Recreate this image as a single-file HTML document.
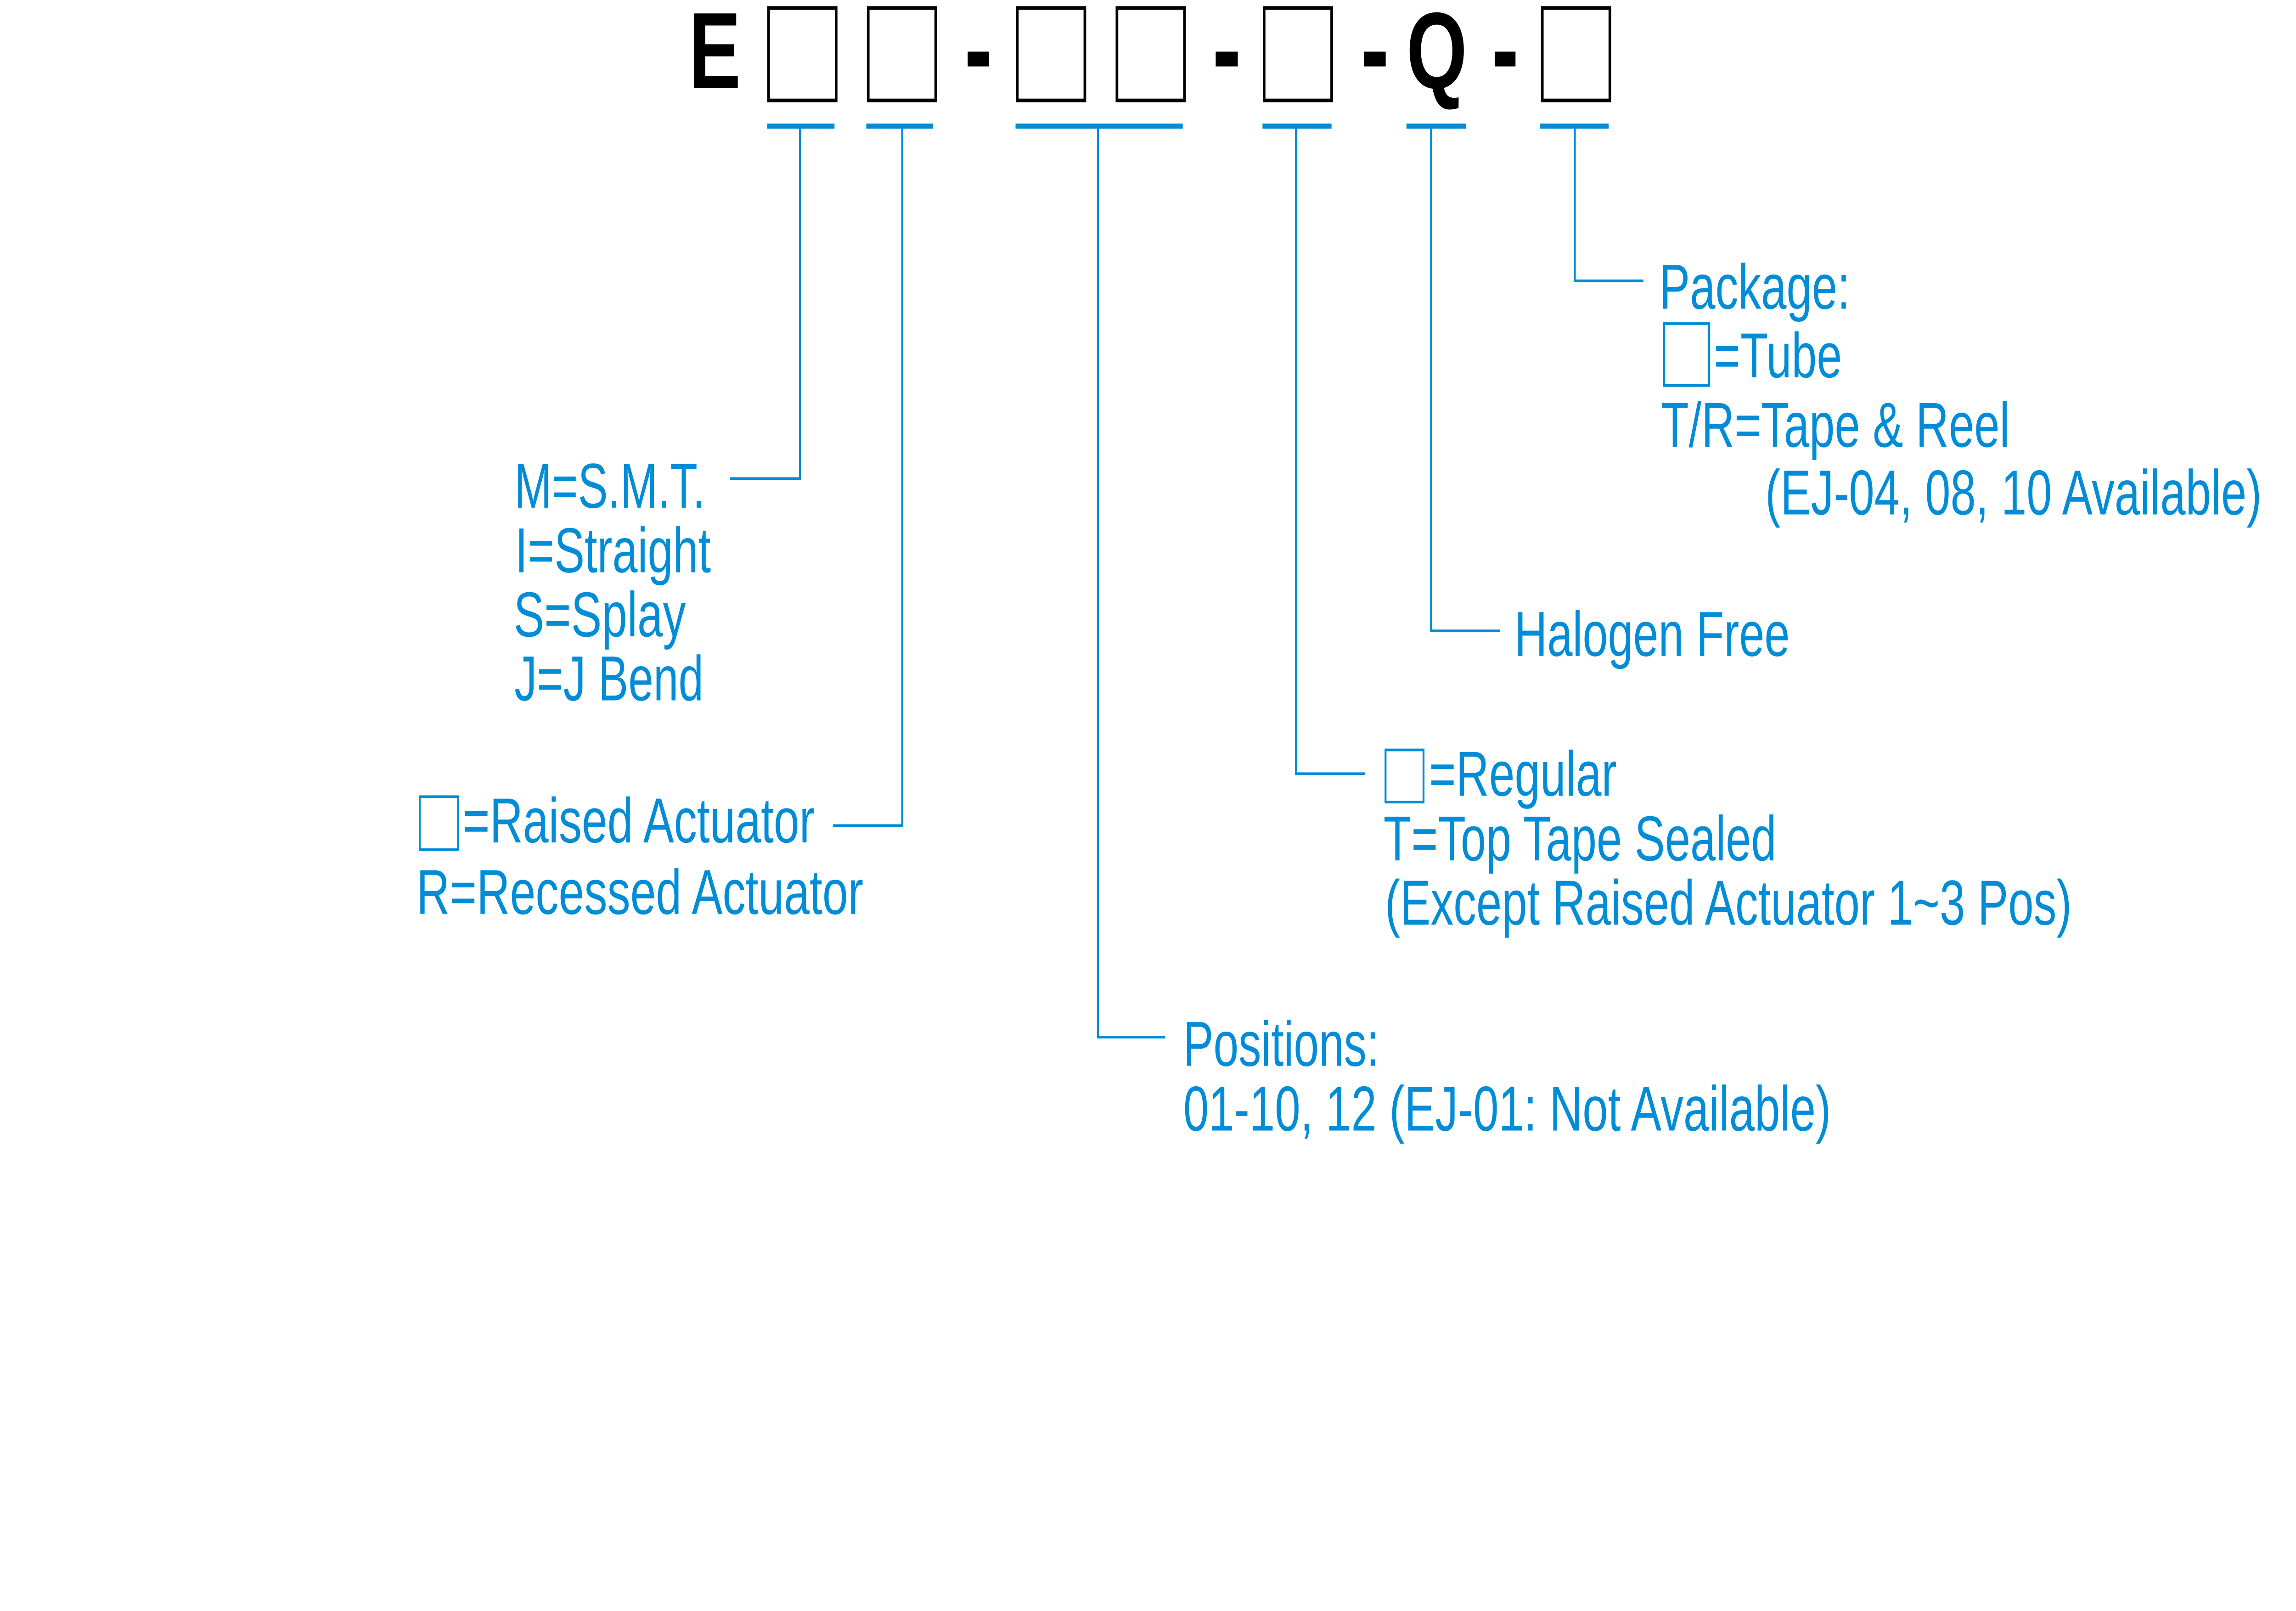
<!DOCTYPE html>
<html><head><meta charset="utf-8"><style>
html,body{margin:0;padding:0;background:#fff;width:100%;height:100%;overflow:hidden;}
svg{display:block;position:fixed;left:0;top:0;width:100vw;height:100vh;}
</style></head><body>
<svg viewBox="0 0 1560 786" preserveAspectRatio="none" xmlns="http://www.w3.org/2000/svg">
<rect width="1560" height="786" fill="#fff"/>
<g font-family="'Liberation Sans', Arial, sans-serif" font-weight="bold" font-size="53" fill="#000">
<text x="468" y="43">E</text>
<text x="955.6" y="43">Q</text>
</g>
<g fill="none" stroke="#000" stroke-width="1.8">
<rect x="522.2" y="3.9" width="45.9" height="45.1"/>
<rect x="589.9" y="3.9" width="45.9" height="45.1"/>
<rect x="691.2" y="3.9" width="45.9" height="45.1"/>
<rect x="758.9" y="3.9" width="45.9" height="45.1"/>
<rect x="858.9" y="3.9" width="45.9" height="45.1"/>
<rect x="1047.9" y="3.9" width="45.9" height="45.1"/>
</g>
<g fill="#000">
<rect x="657.5" y="25.2" width="14.5" height="7.2"/>
<rect x="826" y="25.2" width="15" height="7.2"/>
<rect x="926.8" y="25.2" width="14.7" height="7.2"/>
<rect x="1015.6" y="25.2" width="14.1" height="7.2"/>
</g>
<g fill="#008cd6">
<rect x="521.3" y="60.3" width="45.7" height="2.5"/>
<rect x="588.6" y="60.3" width="45.4" height="2.5"/>
<rect x="690" y="60.3" width="113.6" height="2.5"/>
<rect x="857.8" y="60.3" width="46.9" height="2.5"/>
<rect x="955.6" y="60.3" width="40.4" height="2.5"/>
<rect x="1046.5" y="60.3" width="46.5" height="2.5"/>
</g>
<g fill="none" stroke="#008cd6" stroke-width="1.3">
<polyline points="543.5,62 543.5,233.5 496,233.5"/>
<polyline points="613,62 613,402.8 566,402.8"/>
<polyline points="746,62 746,506 791.7,506"/>
<polyline points="880.5,62 880.5,377.5 927.4,377.5"/>
<polyline points="972.3,62 972.3,307.8 1019,307.8"/>
<polyline points="1070,62 1070,137 1116.6,137"/>
<rect x="285.2" y="388.7" width="26" height="25.8"/>
<rect x="941.4" y="365.9" width="25.8" height="25.4"/>
<rect x="1130.7" y="157.9" width="30.6" height="30.2"/>
</g>
<g font-family="'Liberation Sans', Arial, sans-serif" font-size="31" fill="#008cd6">
<text x="349.5" y="247.7" textLength="129.5" lengthAdjust="spacingAndGlyphs">M=S.M.T.</text>
<text x="350" y="279.2" textLength="133" lengthAdjust="spacingAndGlyphs">I=Straight</text>
<text x="349" y="310.5" textLength="117" lengthAdjust="spacingAndGlyphs">S=Splay</text>
<text x="349.5" y="341.7" textLength="128.5" lengthAdjust="spacingAndGlyphs">J=J Bend</text>
<text x="314.5" y="411" textLength="239" lengthAdjust="spacingAndGlyphs">=Raised Actuator</text>
<text x="283" y="445.9" textLength="303.6" lengthAdjust="spacingAndGlyphs">R=Recessed Actuator</text>
<text x="804" y="520" textLength="133" lengthAdjust="spacingAndGlyphs">Positions:</text>
<text x="804" y="551.6" textLength="440" lengthAdjust="spacingAndGlyphs">01-10, 12 (EJ-01: Not Available)</text>
<text x="971" y="388.2" textLength="127.5" lengthAdjust="spacingAndGlyphs">=Regular</text>
<text x="940" y="419.8" textLength="267" lengthAdjust="spacingAndGlyphs">T=Top Tape Sealed</text>
<text x="941" y="451.1" textLength="466.6" lengthAdjust="spacingAndGlyphs">(Except Raised Actuator 1~3 Pos)</text>
<text x="1029" y="320" textLength="187" lengthAdjust="spacingAndGlyphs">Halogen Free</text>
<text x="1127.5" y="150.6" textLength="129.5" lengthAdjust="spacingAndGlyphs">Package:</text>
<text x="1164.5" y="184.1" textLength="87" lengthAdjust="spacingAndGlyphs">=Tube</text>
<text x="1128.5" y="218" textLength="237" lengthAdjust="spacingAndGlyphs">T/R=Tape &amp; Reel</text>
<text x="1199.4" y="251" textLength="337.3" lengthAdjust="spacingAndGlyphs">(EJ-04, 08, 10 Available)</text>
</g>
</svg>
</body></html>
